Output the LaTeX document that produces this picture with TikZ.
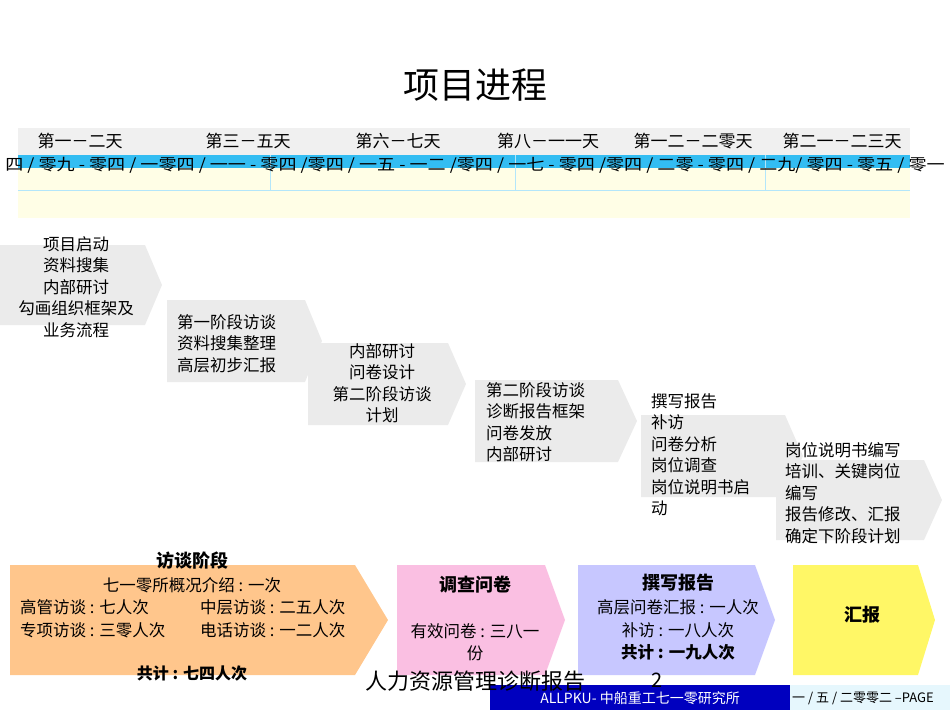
\documentclass[tikz,border=0pt]{standalone}
\usepackage{fontspec}
\setmainfont{Noto Sans CJK SC}
\begin{document}
\begin{tikzpicture}[x=1pt,y=-1pt,
  txt/.style={font=\fontsize{16.5}{21.5}\selectfont, align=center, inner sep=0pt},
  ltxt/.style={font=\fontsize{16.5}{21.5}\selectfont, align=left, inner sep=0pt},
  hdr/.style={font=\fontsize{17}{19}\selectfont, inner sep=0pt},
  gchev/.style={fill=black!8}]
\useasboundingbox (0,0) rectangle (950,713);
\newcommand{\chev}[6]{\fill[#6] (#1,#2) -- (#3,#2) -- (#5,{(#2+#4)/2}) -- (#3,#4) -- (#1,#4) -- cycle;}
\node[font=\fontsize{36}{40}\selectfont] (title) at (475,85) {项目进程};
\fill[black!6] (18,128) rectangle (910,155);
\fill[cyan!80!white] (18,155) rectangle (910,168);
\fill[yellow!10] (18,168) rectangle (910,218);
\foreach \x in {270,515,765} \draw[cyan!30] (\x,155) -- (\x,190);
\draw[cyan!30] (18,190) -- (910,190);
\foreach \x/\t in {80/第一－二天,248/第三－五天,398/第六－七天,548/第八－一一天,693/第一二－二零天,842/第二一－二三天}
  \node[hdr] at (\x,141) {\t};
\node[font=\fontsize{16}{17}\selectfont, inner sep=0pt, xscale=1.13] (dates) at (475,165) {四 / 零九 - 零四 / 一零四 / 一一 - 零四 /零四 / 一五 - 一二 /零四 / 一七 - 零四 /零四 / 二零 - 零四 / 二九/ 零四 - 零五 / 零一};
\chev{0}{245}{145}{325}{162}{gchev}
\chev{167}{300}{305}{382}{322}{gchev}
\chev{308}{343}{448}{425}{466}{gchev}
\chev{475}{380}{618}{462}{637}{gchev}
\chev{641}{415}{785}{497}{803}{gchev}
\chev{776}{460}{924}{540}{942}{gchev}
\node[txt] (s1) at (76,287) {项目启动\\资料搜集\\内部研讨\\勾画组织框架及\\业务流程};
\node[ltxt,anchor=north west] (s2) at (177,314) {第一阶段访谈\\资料搜集整理\\高层初步汇报};
\node[txt] (s3) at (382,383) {内部研讨\\问卷设计\\第二阶段访谈\\计划};
\node[ltxt,anchor=north west] (s4) at (486,382) {第二阶段访谈\\诊断报告框架\\问卷发放\\内部研讨};
\node[ltxt,anchor=north west] (s5) at (651,393) {撰写报告\\补访\\问卷分析\\岗位调查\\岗位说明书启\\动};
\node[ltxt,anchor=north west] (s6) at (785,442) {岗位说明书编写\\培训、关键岗位\\编写\\报告修改、汇报\\确定下阶段计划};
\chev{10}{565}{355}{675}{388}{fill=orange!45}
\chev{397}{565}{545}{675}{565}{fill=magenta!25}
\chev{578}{565}{755}{675}{775}{fill=blue!22}
\chev{793}{565}{918}{675}{935}{fill=yellow!60}
\node[font=\bfseries\fontsize{18}{20}\selectfont] (b1) at (192,561) {访谈阶段};
\node[txt] at (192,585) {七一零所概况介绍 : 一次};
\node[ltxt,anchor=west] at (20,607) {高管访谈 : 七人次};
\node[ltxt,anchor=west] at (200,607) {中层访谈 : 二五人次};
\node[ltxt,anchor=west] at (20,630) {专项访谈 : 三零人次};
\node[ltxt,anchor=west] at (200,630) {电话访谈 : 一二人次};
\node[txt,font=\bfseries\itshape\fontsize{16}{18}\selectfont] at (192,673) {共计 : 七四人次};
\node[font=\bfseries\fontsize{18}{20}\selectfont] (b2) at (475,585) {调查问卷};
\node[txt] at (475,642) {有效问卷 : 三八一\\份};
\node[font=\bfseries\fontsize{18}{20}\selectfont] (b3) at (678,583) {撰写报告};
\node[txt] at (678,607) {高层问卷汇报 : 一人次};
\node[txt] at (678,630) {补访 : 一八人次};
\node[txt,font=\bfseries\fontsize{16.5}{18}\selectfont] at (678,652) {共计 : 一九人次};
\node[font=\bfseries\fontsize{18}{20}\selectfont] (b4) at (862,615) {汇报};
\fill[blue!75!black] (490,685) rectangle (790,710);
\fill[cyan!10] (790,685) rectangle (950,710);
\node[font=\fontsize{14}{15}\selectfont,text=white] (f1) at (640,698) {ALLPKU- 中船重工七一零研究所};
\node[font=\fontsize{13}{14}\selectfont,anchor=west,inner sep=0pt] (f2) at (792,698) {一 / 五 / 二零零二 --PAGE};
\node[font=\fontsize{22}{24}\selectfont] (f3) at (475,681) {人力资源管理诊断报告};
\node[font=\fontsize{20}{22}\selectfont] (f4) at (657,680) {2};
\end{tikzpicture}
\end{document}
